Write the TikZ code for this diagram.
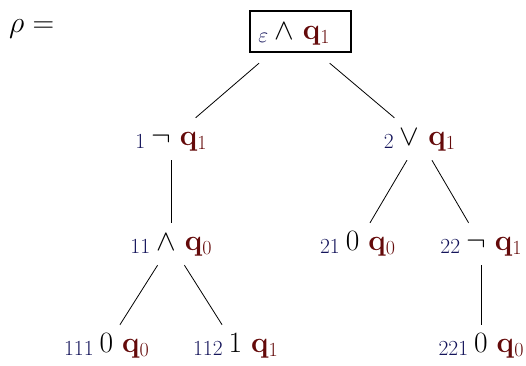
\documentclass[tikz,border=0pt]{standalone}
\usepackage{fix-cm}
\definecolor{idx}{RGB}{20,20,90}
\definecolor{qc}{RGB}{100,10,10}
\newcommand{\idxfont}{\fontsize{21.5}{24}\selectfont}
\newcommand{\trn}[3]{\raisebox{-3pt}{\idxfont\color{idx}#1}\hspace{6pt}#2\hspace{9pt}{\color{qc}\textbf{q}\raisebox{-4pt}{\fontsize{20}{22}\selectfont #3}}}
\tikzset{
  tn/.style={anchor=base, text height=18pt, text depth=6pt, inner ysep=9pt, inner xsep=2pt, font=\fontsize{29.5}{32}\selectfont},
  rootn/.style={anchor=base, text height=18pt, text depth=6pt, inner ysep=18pt, inner xsep=2pt, font=\fontsize{29.5}{32}\selectfont},
  edge/.style={draw=black, line width=0.8pt},
  rbox/.style={draw=black, line width=1.4pt, inner sep=0pt, minimum width=101pt, minimum height=41pt}
}
\begin{document}
\begin{tikzpicture}[x=1pt,y=-1pt]
\useasboundingbox (0,0) rectangle (526,365);
\node[anchor=base west, inner sep=0pt, font=\fontsize{30}{34}\selectfont] (rho) at (9,32) {$\rho=$};
\node[rbox] (box) at (300.5,31.5) {};
\node[rootn] (root) at (294,39) {\trn{$\varepsilon$}{$\wedge$}{1}};
\node[tn] (n1) at (171,145) {\trn{1}{$\neg$}{1}};
\node[tn] (n2) at (419.5,145) {\trn{2}{$\vee$}{1}};
\node[tn] (n11) at (171,250) {\trn{11}{$\wedge$}{0}};
\node[tn] (n21) at (357.5,250) {\trn{21}{0}{0}};
\node[tn] (n22) at (481,250) {\trn{22}{$\neg$}{1}};
\node[tn] (n111) at (106.5,352) {\trn{111}{0}{0}};
\node[tn] (n112) at (235.5,352) {\trn{112}{1}{1}};
\node[tn] (n221) at (481,352) {\trn{221}{0}{0}};
\draw[edge] (root) -- (n1);
\draw[edge] (root) -- (n2);
\draw[edge] (n1) -- (n11);
\draw[edge] (n2) -- (n21);
\draw[edge] (n2) -- (n22);
\draw[edge] (n11) -- (n111);
\draw[edge] (n11) -- (n112);
\draw[edge] (n22) -- (n221);
\end{tikzpicture}
\end{document}
